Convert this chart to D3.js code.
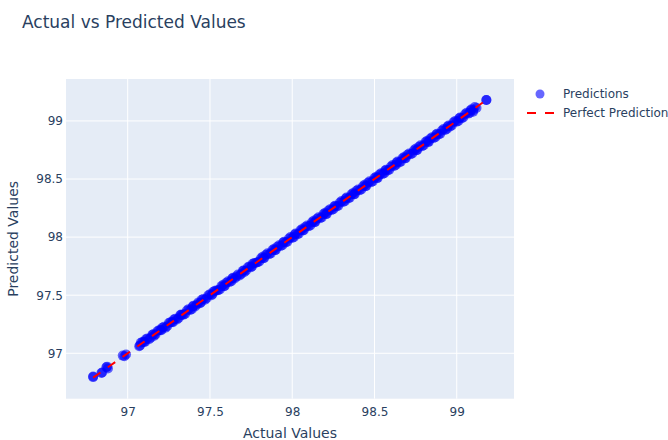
<!DOCTYPE html>
<html>
<head>
<meta charset="utf-8">
<script src="https://cdn.jsdelivr.net/npm/d3@7"></script>
<style>
  html, body { margin: 0; padding: 0; background: #fff; }
  svg { display: block; }
  text { font-family: "DejaVu Sans", Verdana, sans-serif; fill: #2a3f5f; }
</style>
</head>
<body>
<svg id="chart" width="668" height="440"></svg>
<script>
const actualValues = [
  96.79, 96.84, 96.87, 96.88, 96.97, 96.99,
  97.07, 97.08, 97.10, 97.11, 97.13, 97.15, 97.16, 97.18, 97.20, 97.21,
  97.23, 97.25, 97.27, 97.28, 97.30, 97.32, 97.33, 97.35, 97.37, 97.39,
  97.40, 97.42, 97.44, 97.45, 97.47, 97.49, 97.51, 97.52, 97.54, 97.56,
  97.58, 97.59, 97.61, 97.63, 97.64, 97.66, 97.68, 97.70, 97.71, 97.73,
  97.75, 97.76, 97.78, 97.80, 97.82, 97.83, 97.85, 97.87, 97.89, 97.90,
  97.92, 97.94, 97.95, 97.97, 97.99, 98.01, 98.02, 98.04, 98.06, 98.07,
  98.09, 98.11, 98.13, 98.14, 98.16, 98.18, 98.20, 98.21, 98.23, 98.25,
  98.26, 98.28, 98.30, 98.32, 98.33, 98.35, 98.37, 98.38, 98.40, 98.42,
  98.44, 98.45, 98.47, 98.49, 98.51, 98.52, 98.54, 98.56, 98.57, 98.59,
  98.61, 98.63, 98.64, 98.66, 98.68, 98.69, 98.71, 98.73, 98.75, 98.76,
  98.78, 98.80, 98.82, 98.83, 98.85, 98.87, 98.88, 98.90, 98.92, 98.94,
  98.95, 98.97, 98.99, 99.01, 99.02, 99.04, 99.06, 99.08, 99.09, 99.10,
  99.11, 99.18,
  97.075, 97.09, 97.105, 97.12, 97.14, 97.155, 97.17, 97.19, 97.205, 97.22,
  97.24, 97.26, 97.275, 97.29, 97.31, 97.325, 97.34, 97.36, 97.38, 97.395,
  97.41, 97.43, 97.445, 97.46, 97.48, 97.50, 97.515, 97.53, 97.55, 97.57,
  97.585, 97.60, 97.62, 97.635, 97.65, 97.67, 97.69, 97.705, 97.72, 97.74,
  97.755, 97.77, 97.79, 97.81, 97.825, 97.84, 97.86, 97.88, 97.895, 97.91,
  97.93, 97.945, 97.96, 97.98, 98.00, 98.015, 98.03, 98.05, 98.065, 98.08,
  98.10, 98.12, 98.135, 98.15, 98.17, 98.19, 98.205, 98.22, 98.24, 98.255,
  98.27, 98.29, 98.31, 98.325, 98.34, 98.36, 98.375, 98.39, 98.41, 98.43,
  98.445, 98.46, 98.48, 98.50, 98.515, 98.53, 98.55, 98.565, 98.58, 98.60,
  98.62, 98.635, 98.65, 98.67, 98.685, 98.70, 98.72, 98.74, 98.755, 98.77,
  98.79, 98.81, 98.825, 98.84, 98.86, 98.875, 98.89, 98.91, 98.93, 98.945,
  98.96, 98.98, 99.00, 99.015, 99.03, 99.05, 99.07, 99.085, 99.10, 99.12,
  96.79, 96.845, 96.875, 96.98, 99.18
];
const predictedValues = [
  96.80, 96.83, 96.88, 96.87, 96.98, 96.99,
  97.06, 97.09, 97.10, 97.12, 97.12, 97.16, 97.15, 97.19, 97.20, 97.22,
  97.22, 97.26, 97.27, 97.29, 97.29, 97.33, 97.33, 97.34, 97.38, 97.38,
  97.41, 97.42, 97.43, 97.46, 97.46, 97.50, 97.50, 97.53, 97.54, 97.55,
  97.59, 97.58, 97.62, 97.62, 97.65, 97.66, 97.67, 97.71, 97.70, 97.74,
  97.74, 97.77, 97.78, 97.79, 97.83, 97.82, 97.86, 97.86, 97.90, 97.89,
  97.93, 97.93, 97.96, 97.96, 98.00, 98.00, 98.03, 98.03, 98.07, 98.06,
  98.10, 98.10, 98.14, 98.13, 98.17, 98.17, 98.21, 98.20, 98.24, 98.24,
  98.27, 98.27, 98.31, 98.31, 98.34, 98.34, 98.38, 98.37, 98.41, 98.41,
  98.45, 98.44, 98.48, 98.48, 98.52, 98.51, 98.55, 98.55, 98.58, 98.58,
  98.62, 98.62, 98.65, 98.65, 98.69, 98.68, 98.72, 98.72, 98.76, 98.75,
  98.79, 98.79, 98.83, 98.82, 98.86, 98.86, 98.89, 98.89, 98.93, 98.93,
  98.96, 98.96, 99.00, 99.00, 99.03, 99.03, 99.07, 99.07, 99.10, 99.08,
  99.12, 99.18,
  97.068, 97.098, 97.098, 97.128, 97.133, 97.163, 97.163, 97.198, 97.198, 97.228,
  97.233, 97.268, 97.268, 97.298, 97.303, 97.333, 97.333, 97.368, 97.373, 97.403,
  97.403, 97.438, 97.438, 97.468, 97.473, 97.508, 97.508, 97.538, 97.543, 97.578,
  97.578, 97.608, 97.613, 97.643, 97.643, 97.678, 97.683, 97.713, 97.713, 97.748,
  97.748, 97.778, 97.783, 97.818, 97.818, 97.848, 97.853, 97.888, 97.888, 97.918,
  97.923, 97.953, 97.953, 97.988, 97.993, 98.023, 98.023, 98.058, 98.058, 98.088,
  98.093, 98.128, 98.128, 98.158, 98.163, 98.198, 98.198, 98.228, 98.233, 98.263,
  98.263, 98.298, 98.303, 98.333, 98.333, 98.368, 98.368, 98.398, 98.403, 98.438,
  98.438, 98.468, 98.473, 98.508, 98.508, 98.538, 98.543, 98.573, 98.573, 98.608,
  98.613, 98.643, 98.643, 98.678, 98.678, 98.708, 98.713, 98.748, 98.748, 98.778,
  98.783, 98.818, 98.818, 98.848, 98.853, 98.883, 98.883, 98.918, 98.923, 98.953,
  98.953, 98.988, 98.993, 99.023, 99.023, 99.058, 99.063, 99.093, 99.093, 99.112,
  96.795, 96.835, 96.885, 96.975, 99.18
];
const perfectLine = [96.79, 99.18];
const xTicks = [97, 97.5, 98, 98.5, 99];
const yTicks = [97, 97.5, 98, 98.5, 99];
const xDomain = [96.625, 99.348];
const yDomain = [96.609, 99.361];
const seriesNames = ["Predictions", "Perfect Prediction"];

const svg = d3.select("#chart");
const plot = { left: 66, right: 514, top: 79, bottom: 398.7 };

const x = d3.scaleLinear().domain(xDomain).range([plot.left, plot.right]);
const y = d3.scaleLinear().domain(yDomain).range([plot.bottom, plot.top]);

// background
svg.append("rect")
  .attr("x", plot.left).attr("y", plot.top)
  .attr("width", plot.right - plot.left).attr("height", plot.bottom - plot.top)
  .attr("fill", "#E5ECF6");

// grid
const g = svg.append("g");
g.selectAll(".vg").data(xTicks).join("line")
  .attr("x1", d => x(d)).attr("x2", d => x(d))
  .attr("y1", plot.top).attr("y2", plot.bottom)
  .attr("stroke", "#fff").attr("stroke-width", 1);
g.selectAll(".hg").data(yTicks).join("line")
  .attr("y1", d => y(d)).attr("y2", d => y(d))
  .attr("x1", plot.left).attr("x2", plot.right)
  .attr("stroke", "#fff").attr("stroke-width", 1);

// axes
const xAxis = d3.axisBottom(x).tickValues(xTicks).tickSize(0).tickPadding(9).tickFormat(d3.format("~g"));
const yAxis = d3.axisLeft(y).tickValues(yTicks).tickSize(0).tickPadding(3).tickFormat(d3.format("~g"));
const xa = svg.append("g").attr("transform", `translate(0,${plot.bottom})`).call(xAxis);
const ya = svg.append("g").attr("transform", `translate(${plot.left},0)`).call(yAxis);
[xa, ya].forEach(a => {
  a.select(".domain").remove();
  a.selectAll("text").attr("font-size", 12).style("font-family", '"DejaVu Sans", Verdana, sans-serif').attr("fill", "#2a3f5f");
});

// clip
svg.append("clipPath").attr("id", "clip").append("rect")
  .attr("x", plot.left).attr("y", plot.top)
  .attr("width", plot.right - plot.left).attr("height", plot.bottom - plot.top);

const pts = actualValues.map((a, i) => ({ a, p: predictedValues[i] }));
const data = svg.append("g").attr("clip-path", "url(#clip)");
data.selectAll("circle").data(pts).join("circle")
  .attr("cx", d => x(d.a)).attr("cy", d => y(d.p)).attr("r", 5)
  .attr("fill", "blue").attr("fill-opacity", 0.6);

data.append("line")
  .attr("x1", x(perfectLine[0])).attr("y1", y(perfectLine[0]))
  .attr("x2", x(perfectLine[1])).attr("y2", y(perfectLine[1]))
  .attr("stroke", "red").attr("stroke-width", 2).attr("stroke-dasharray", "9,9");

// title
svg.append("text").attr("x", 22).attr("y", 28).attr("font-size", 17).text("Actual vs Predicted Values");

// axis titles
svg.append("text").attr("x", (plot.left + plot.right) / 2).attr("y", 438)
  .attr("text-anchor", "middle").attr("font-size", 14).text("Actual Values");
svg.append("text").attr("transform", `translate(18,${(plot.top + plot.bottom) / 2}) rotate(-90)`)
  .attr("text-anchor", "middle").attr("font-size", 14).text("Predicted Values");

// legend
const leg = svg.append("g");
leg.append("circle").attr("cx", 540).attr("cy", 94).attr("r", 4.5).attr("fill", "blue").attr("fill-opacity", 0.6);
leg.append("text").attr("x", 563).attr("y", 98).attr("font-size", 12).text(seriesNames[0]);
leg.append("line").attr("x1", 527).attr("x2", 557).attr("y1", 113).attr("y2", 113)
  .attr("stroke", "red").attr("stroke-width", 2).attr("stroke-dasharray", "9,9");
leg.append("text").attr("x", 563).attr("y", 117).attr("font-size", 12).text(seriesNames[1]);
</script>
</body>
</html>
